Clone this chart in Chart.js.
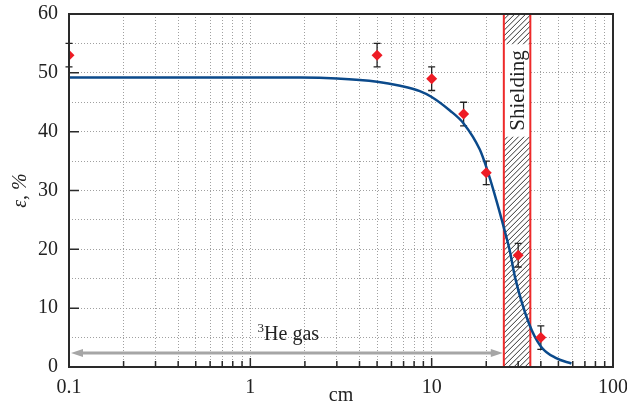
<!DOCTYPE html>
<html>
<head>
<meta charset="utf-8">
<script src="https://cdn.jsdelivr.net/npm/chart.js@4.4.0/dist/chart.umd.min.js"></script>
<style>
  html, body { margin: 0; padding: 0; background: #fff; }
  #wrap { width: 627px; height: 407px; }
</style>
</head>
<body>
<div id="wrap"><canvas id="chart" width="627" height="407"></canvas></div>
<script>
// measured points with error bars
const pointX = [0.1, 5, 10, 15, 20, 30, 40];
const pointY = [53, 53, 49, 43, 33, 19, 5];
const pointErr = [2, 2, 2, 2, 2, 2, 2];

// simulated efficiency curve
const curveX = [0.1, 1, 1.9, 3, 5, 6.7, 8.6, 10, 12.6, 15, 18.4, 20, 22.7, 25.2, 26.9, 28.9, 34.4, 40, 48.6, 59];
const curveY = [49.2, 49.2, 49.2, 49.05, 48.5, 47.8, 46.9, 45.9, 43.6, 41.4, 37, 34, 28.4, 23.3, 19.9, 15.1, 7.4, 3.5, 1.5, 0.6];

// shielding band and 3He gas range
const shieldRange = [25, 35];
const shieldLabel = 'Shielding';
const gasRange = [0.1, 25];
const gasArrowY = 2.4;
const gasLabel = { x: 1.62, y: 4.6, text: 'He gas', sup: '3' };

// axes
const xTickValues = [0.1, 0.2, 0.3, 0.4, 0.5, 0.6, 0.7, 0.8, 0.9, 1, 2, 3, 4, 5, 6, 7, 8, 9, 10, 20, 30, 40, 50, 60, 70, 80, 90, 100];
const xTickLabels = [0.1, 1, 10, 100];
const yTickLabels = [0, 10, 20, 30, 40, 50, 60];
const xTitle = 'cm';
const yTitle = 'ε, %';

const SERIF = '"Liberation Serif", "DejaVu Serif", serif';

const decoPlugin = {
    id: 'deco',
    beforeDatasetsDraw(chart) {
        const { ctx, chartArea: a, scales: { x, y } } = chart;
        const x0 = x.getPixelForValue(shieldRange[0]);
        const x1 = x.getPixelForValue(shieldRange[1]);

        // hatch
        ctx.save();
        ctx.beginPath();
        ctx.rect(x0, a.top, x1 - x0, a.bottom - a.top);
        ctx.clip();
        ctx.fillStyle = '#fff';
        ctx.fillRect(x0, a.top, x1 - x0, a.bottom - a.top);
        ctx.strokeStyle = '#333';
        ctx.lineWidth = 1;
        const h = a.bottom - a.top;
        for (let s = x0 - h; s < x1 + 5; s += 5.5) {
            ctx.beginPath();
            ctx.moveTo(s, a.bottom);
            ctx.lineTo(s + h, a.top);
            ctx.stroke();
        }
        ctx.restore();

        // label box + text
        ctx.save();
        ctx.font = '21px ' + SERIF;
        const tw = ctx.measureText(shieldLabel).width;
        const cy = y.getPixelForValue(47);
        ctx.fillStyle = '#fff';
        ctx.fillRect(x0, cy - tw / 2 - 6, x1 - x0, tw + 12);
        ctx.translate((x0 + x1) / 2 + 1, cy);
        ctx.rotate(-Math.PI / 2);
        ctx.fillStyle = '#222';
        ctx.textAlign = 'center';
        ctx.textBaseline = 'middle';
        ctx.fillText(shieldLabel, 0, 0);
        ctx.restore();

        // red borders
        ctx.save();
        ctx.strokeStyle = '#ee2a2a';
        ctx.lineWidth = 2;
        [x0, x1].forEach(px => {
            ctx.beginPath();
            ctx.moveTo(px, a.top);
            ctx.lineTo(px, a.bottom);
            ctx.stroke();
        });
        ctx.restore();

        // gas arrow
        const ay = y.getPixelForValue(gasArrowY);
        const ax0 = x.getPixelForValue(gasRange[0]) + 2;
        const ax1 = x.getPixelForValue(gasRange[1]) - 1;
        ctx.save();
        ctx.strokeStyle = '#a6a6a6';
        ctx.fillStyle = '#a6a6a6';
        ctx.lineWidth = 3;
        ctx.beginPath();
        ctx.moveTo(ax0 + 8, ay);
        ctx.lineTo(ax1 - 8, ay);
        ctx.stroke();
        ctx.beginPath();
        ctx.moveTo(ax0, ay);
        ctx.lineTo(ax0 + 12, ay - 4);
        ctx.lineTo(ax0 + 12, ay + 4);
        ctx.closePath();
        ctx.fill();
        ctx.beginPath();
        ctx.moveTo(ax1, ay);
        ctx.lineTo(ax1 - 12, ay - 4);
        ctx.lineTo(ax1 - 12, ay + 4);
        ctx.closePath();
        ctx.fill();

        // gas label
        ctx.fillStyle = '#222';
        ctx.textBaseline = 'alphabetic';
        ctx.font = '20px ' + SERIF;
        const mainW = ctx.measureText(gasLabel.text).width;
        ctx.font = '13px ' + SERIF;
        const supW = ctx.measureText(gasLabel.sup).width;
        const gx = x.getPixelForValue(gasLabel.x) - (mainW + supW) / 2;
        const gy = y.getPixelForValue(gasLabel.y);
        ctx.fillText(gasLabel.sup, gx, gy - 8);
        ctx.font = '20px ' + SERIF;
        ctx.fillText(gasLabel.text, gx + supW, gy);
        ctx.restore();

        // error bars
        ctx.save();
        ctx.strokeStyle = '#222';
        ctx.lineWidth = 1.3;
        pointX.forEach((v, i) => {
            const px = x.getPixelForValue(v);
            const top = y.getPixelForValue(pointY[i] + pointErr[i]);
            const bot = y.getPixelForValue(pointY[i] - pointErr[i]);
            ctx.beginPath();
            ctx.moveTo(px, top); ctx.lineTo(px, bot);
            ctx.moveTo(px - 3.5, top); ctx.lineTo(px + 3.5, top);
            ctx.moveTo(px - 3.5, bot); ctx.lineTo(px + 3.5, bot);
            ctx.stroke();
        });
        ctx.restore();
    },
    afterDraw(chart) {
        const { ctx, chartArea: a, scales: { x, y } } = chart;
        ctx.save();
        ctx.strokeStyle = '#2a2a2a';
        ctx.lineWidth = 2;
        ctx.strokeRect(a.left, a.top, a.right - a.left, a.bottom - a.top);

        // inner ticks
        ctx.lineWidth = 1.5;
        ctx.beginPath();
        xTickValues.forEach(v => {
            if (v === 0.1 || v === 100) return;
            const px = x.getPixelForValue(v);
            const len = xTickLabels.includes(v) ? 9 : 6;
            ctx.moveTo(px, a.bottom);
            ctx.lineTo(px, a.bottom - len);
        });
        yTickLabels.forEach(v => {
            if (v === 0 || v === 60) return;
            const py = y.getPixelForValue(v);
            ctx.moveTo(a.left, py);
            ctx.lineTo(a.left + 10, py);
        });
        ctx.stroke();

        // titles
        ctx.fillStyle = '#222';
        ctx.font = '20px ' + SERIF;
        ctx.textAlign = 'center';
        ctx.textBaseline = 'alphabetic';
        ctx.fillText(xTitle, (a.left + a.right) / 2, 401);
        ctx.translate(26, (a.top + a.bottom) / 2);
        ctx.rotate(-Math.PI / 2);
        ctx.font = 'italic 20px ' + SERIF;
        ctx.fillText(yTitle, 0, 0);
        ctx.restore();
    }
};

new Chart(document.getElementById('chart').getContext('2d'), {
    type: 'scatter',
    data: {
        datasets: [
            {
                label: 'points',
                data: pointX.map((v, i) => ({ x: v, y: pointY[i] })),
                pointStyle: 'rectRot',
                pointRadius: 5.5,
                backgroundColor: '#ee1c25',
                borderColor: '#ee1c25',
                borderWidth: 0,
                order: 0
            },
            {
                label: 'curve',
                data: curveX.map((v, i) => ({ x: v, y: curveY[i] })),
                showLine: true,
                pointRadius: 0,
                borderColor: '#0b4a8b',
                borderWidth: 2.5,
                cubicInterpolationMode: 'monotone',
                order: 1
            }
        ]
    },
    options: {
        responsive: false,
        animation: false,
        events: [],
        layout: { padding: { top: 14, right: 14, left: 0, bottom: 0 } },
        plugins: { legend: { display: false }, tooltip: { enabled: false } },
        scales: {
            x: {
                type: 'logarithmic',
                min: 0.1,
                max: 100,
                afterBuildTicks: s => { s.ticks = xTickValues.map(v => ({ value: v })); },
                afterFit: s => { s.height = 40; s.paddingLeft = 0; s.paddingRight = 0; },
                grid: { color: '#a0a0a0', lineWidth: 1, drawTicks: false },
                border: { display: false, dash: [1, 2] },
                ticks: {
                    autoSkip: false,
                    maxRotation: 0,
                    padding: 9,
                    color: '#222',
                    font: { family: SERIF, size: 20 },
                    callback: v => xTickLabels.includes(v) ? String(v) : ''
                }
            },
            y: {
                min: 0,
                max: 60,
                afterFit: s => { s.width = 69; s.paddingTop = 0; s.paddingBottom = 0; },
                grid: { color: '#a0a0a0', lineWidth: 1, drawTicks: false },
                border: { display: false, dash: [1, 2] },
                ticks: {
                    stepSize: 5,
                    padding: 11,
                    color: '#222',
                    font: { family: SERIF, size: 20 },
                    callback: v => yTickLabels.includes(v) ? String(v) : ''
                }
            }
        }
    },
    plugins: [decoPlugin]
});
</script>
</body>
</html>
